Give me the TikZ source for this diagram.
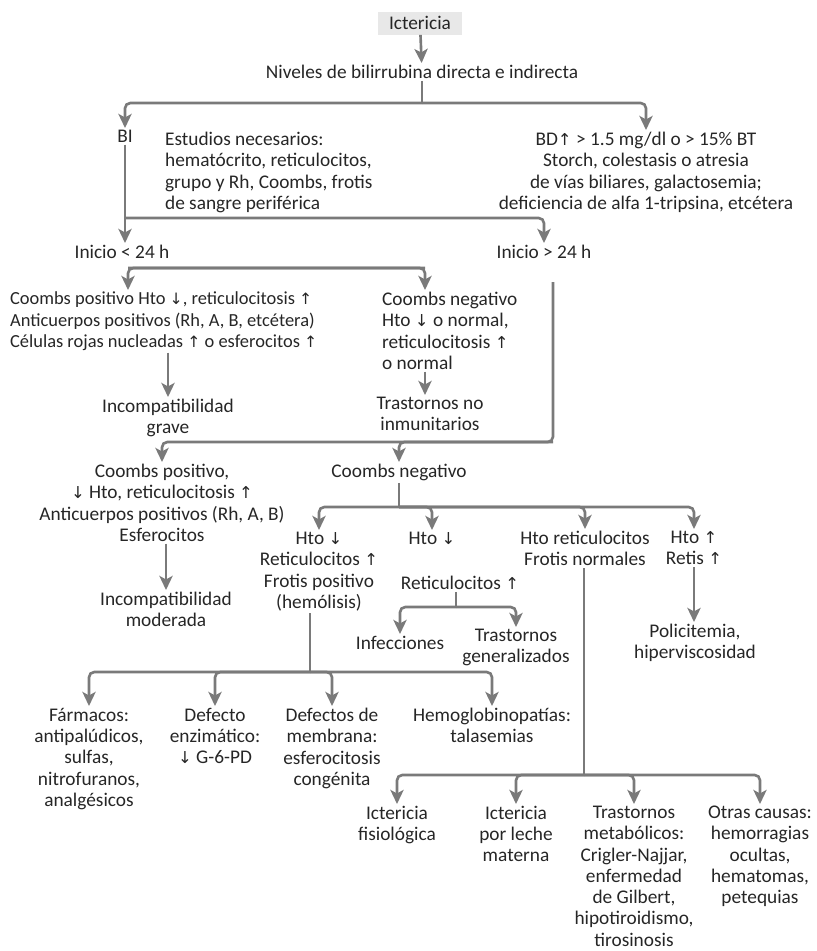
\documentclass[tikz,border=0pt]{standalone}
\usepackage{fontspec}
\setmainfont{Carlito}
\newfontfamily\arrowfont{DejaVu Sans}[Scale=0.85]
\newcommand{\flup}{{\arrowfont ↑}}
\newcommand{\fldn}{{\arrowfont ↓}}
\usepackage{tikz}
\usetikzlibrary{arrows.meta}
\tikzstyle{txt} = [inner sep=1pt, align=center, anchor=north, text=black!85, font=\fontsize{11}{12.1}\selectfont]
\tikzstyle{txtl} = [txt, align=left, anchor=north west]
\tikzstyle{titlebox} = [txt, anchor=center, fill=black!9, minimum width=1.68cm, minimum height=0.46cm]
\tikzstyle{conn} = [draw=black!52, line width=1.5pt, rounded corners=3pt]
\tikzstyle{arrow} = [conn, -{Stealth[length=8pt,width=7.5pt,inset=2pt]}]

\begin{document}
\begin{tikzpicture}[x=0.02cm, y=-0.02cm]
    \useasboundingbox (0,0) rectangle (817,951);
    \node (icterica) [titlebox] at (420,23) {Ictericia};
    \node (niveles) [txt] at (422,63) {Niveles de bilirrubina directa e indirecta};
    \node (bi) [txt] at (125,128) {BI};
    \node (estudios) [txtl] at (163,130) {Estudios necesarios:\\hematócrito, reticulocitos,\\grupo y Rh, Coombs, frotis\\de sangre periférica};
    \node (bd) [txt] at (646,130) {BD\flup{} > 1.5 mg/dl o > 15\% BT\\Storch, colestasis o atresia\\de vías biliares, galactosemia;\\deficiencia de alfa 1-tripsina, etcétera};
    \node (inicio1) [txt] at (122,243) {Inicio < 24 h};
    \node (inicio2) [txt] at (544,243) {Inicio > 24 h};
    \node (cpos1) [txtl, font=\fontsize{10.5}{12.1}\selectfont] at (8,290) {Coombs positivo Hto \fldn, reticulocitosis \flup\\Anticuerpos positivos (Rh, A, B, etcétera)\\Células rojas nucleadas \flup{} o esferocitos \flup};
    \node (cneg1) [txtl] at (380,290) {Coombs negativo\\Hto \fldn{} o normal,\\reticulocitosis \flup\\o normal};
    \node (grave) [txt] at (168,397) {Incompatibilidad\\grave};
    \node (trast1) [txt] at (430,395) {Trastornos no\\inmunitarios};
    \node (cpos2) [txt] at (162,462) {Coombs positivo,\\\fldn{} Hto, reticulocitosis \flup\\Anticuerpos positivos (Rh, A, B)\\Esferocitos};
    \node (cneg2) [txt] at (399,462) {Coombs negativo};
    \node (moder) [txt] at (166,590) {Incompatibilidad\\moderada};
    \node (hem) [txt] at (319,530) {Hto \fldn\\Reticulocitos \flup\\Frotis positivo\\(hemólisis)};
    \node (hto2) [txt] at (432,530) {Hto \fldn};
    \node (reti2) [txt] at (460,574) {Reticulocitos \flup};
    \node (normal) [txt] at (585,529) {Hto reticulocitos\\Frotis normales};
    \node (retis) [txt] at (694,529) {Hto \flup\\Retis \flup};
    \node (infec) [txt] at (400,634) {Infecciones};
    \node (trgen) [txt] at (516,627) {Trastornos\\generalizados};
    \node (poli) [txt] at (695,622) {Policitemia,\\hiperviscosidad};
    \node (farm) [txt] at (89,706) {Fármacos:\\antipalúdicos,\\sulfas,\\nitrofuranos,\\analgésicos};
    \node (defe) [txt] at (215,706) {Defecto\\enzimático:\\\fldn{} G-6-PD};
    \node (memb) [txt] at (332,706) {Defectos de\\membrana:\\esferocitosis\\congénita};
    \node (hemo) [txt] at (492,706) {Hemoglobinopatías:\\talasemias};
    \node (ict1) [txt] at (397,804) {Ictericia\\fisiológica};
    \node (ict2) [txt] at (516,804) {Ictericia\\por leche\\materna};
    \node (trast3) [txt] at (634,804) {Trastornos\\metabólicos:\\Crigler-Najjar,\\enfermedad\\de Gilbert,\\hipotiroidismo,\\tirosinosis};
    \node (otras) [txt] at (760,804) {Otras causas:\\hemorragias\\ocultas,\\hematomas,\\petequias};

    \coordinate (n1) at (422,103);
    \coordinate (b1) at (125,218);
    \coordinate (b2) at (128,268);
    \coordinate (b3) at (425,268);
    \coordinate (c0) at (553,282);
    \coordinate (c1) at (553,442);
    \coordinate (c3) at (399,507);
    \coordinate (c4) at (456,607);
    \coordinate (c5) at (310,672);
    \coordinate (c6) at (584,775);

    \draw [arrow] (icterica) -- (niveles);
    \draw [conn] (niveles) -- (n1);
    \draw [arrow] (n1) -| (bi);
    \draw [arrow] (n1) -| (bd);
    \draw [arrow] (bi) -- (bi |- inicio1.north);
    \draw [arrow] (b1) -| (inicio2);
    \draw [arrow] (b3) -- (b2) -- (b2 |- cpos1.north);
    \draw [arrow] (b2) -- (b3) -- (b3 |- cneg1.north);
    \draw [arrow] (cpos1.south -| grave) -- (grave);
    \draw [arrow] (cneg1.south -| b3) -- (b3 |- trast1.north);
    \draw [arrow] (c0) -- (c1) -| (cpos2);
    \draw [arrow] (c1) -| (cneg2);
    \draw [arrow] (cpos2.south -| moder) -- (moder);
    \draw [conn] (cneg2) -- (c3);
    \draw [arrow] (c3) -| (hem);
    \draw [arrow] (c3) -| (hto2);
    \draw [arrow] (c3) -| (normal);
    \draw [arrow] (c3) -| (retis);
    \draw [conn] (reti2.south -| c4) -- (c4);
    \draw [arrow] (c4) -| (infec);
    \draw [arrow] (c4) -| (trgen);
    \draw [arrow] (retis) -- (retis |- poli.north);
    \draw [conn] (hem.south -| c5) -- (c5);
    \draw [arrow] (c5) -| (farm);
    \draw [arrow] (c5) -| (defe);
    \draw [arrow] (c5) -| (memb);
    \draw [arrow] (c5) -| (hemo);
    \draw [conn] (normal.south -| c6) -- (c6);
    \draw [arrow] (c6) -| (ict1);
    \draw [arrow] (c6) -| (ict2);
    \draw [arrow] (c6) -| (trast3);
    \draw [arrow] (c6) -| (otras);
\end{tikzpicture}
\end{document}
